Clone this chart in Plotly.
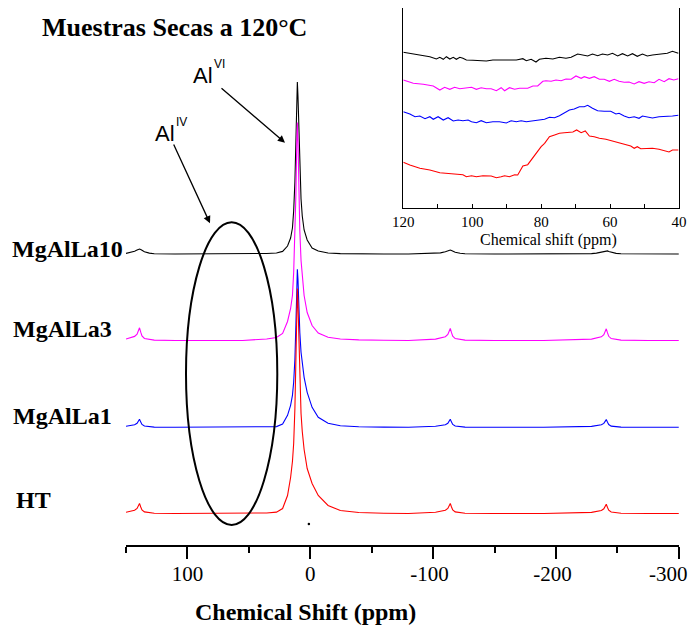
import plotly.graph_objects as go

# ---------------- canvas geometry ----------------
# The page adds an 8 px body margin, so the figure is drawn 8 px smaller and
# every reference-pixel position is shifted by that margin.
PAGE = 8
W, H = 699 - PAGE, 630 - PAGE
ML, MR, MT, MB = 118, 20, 0, 85
PW = W - ML - MR
PH = H - MT - MB


def px(x):
    return (x - PAGE - ML) / PW


def py(y):
    return (H - MB - (y - PAGE)) / PH


# ---------------- main spectra data ----------------
PPM = [150, 147, 143, 141, 140, 139, 138, 137, 135, 131, 127,
       110, 80, 55,
       35.5, 27.5, 22.5, 18.5, 16, 14.5, 13.5, 12.5, 11.7, 11, 10.5,
       10, 9.3, 8.5, 7.5, 6.5, 5, 2.5, -1.5, -6.5, -14.5, -24.5, -39.5,
       -60, -80,
       -102, -106, -110, -112, -113, -114, -115, -116, -118, -122, -126,
       -150, -190,
       -229, -233, -237, -239, -240, -241, -242, -243, -245, -249, -253,
       -275, -300]

SERIES = ["MgAlLa10", "MgAlLa3", "MgAlLa1", "HT"]

INT_MGALLA10 = [0.6, 1.4, 2.8, 3.9, 4.6, 5.0, 4.5, 3.6, 2.3, 0.9, 0.3,
                0, 0, 0,
                0.5, 1.0, 2.6, 8, 16, 26, 43, 72, 112, 155, 172,
                158, 120, 82, 55, 38, 24, 14, 6, 3, 1, 0.4, 0,
                0, 0,
                0.4, 1.1, 2.2, 3.1, 3.7, 4.0, 3.6, 2.9, 1.8, 0.7, 0.3,
                0, 0,
                0.4, 0.9, 1.9, 2.7, 3.2, 3.5, 3.1, 2.5, 1.6, 0.6, 0.2,
                0, 0]

INT_MGALLA3 = [1.5, 2.5, 4.1, 6.4, 9.1, 12.7, 8.3, 4.6, 2.0, 0.9, 0.4,
               0, 0, 0,
               1.5, 3, 7, 19, 32, 45, 68, 100, 145, 196, 218,
               200, 155, 110, 80, 62, 45, 28, 15, 7.5, 3.3, 1.5, 0.6,
               0.2, 0,
               1.4, 2.4, 3.8, 6.0, 8.6, 12.0, 7.8, 4.3, 1.9, 0.8, 0.4,
               0, 0,
               1.4, 2.3, 3.7, 5.9, 8.4, 11.7, 7.6, 4.2, 1.9, 0.8, 0.4,
               0, 0]

INT_MGALLA1 = [1.0, 1.6, 2.6, 4.0, 5.8, 8.0, 5.2, 2.9, 1.3, 0.6, 0.2,
               0, 0, 0,
               0.3, 0.7, 3.2, 12, 22, 32, 45, 68, 102, 142, 158,
               148, 120, 95, 75, 62, 50, 35, 20, 10, 4, 1.5, 0.5,
               0.2, 0,
               1.0, 1.6, 2.6, 4.0, 5.8, 8.0, 5.2, 2.9, 1.3, 0.6, 0.2,
               0, 0,
               0.9, 1.5, 2.5, 3.9, 5.5, 7.7, 5.0, 2.8, 1.2, 0.5, 0.2,
               0, 0]

INT_HT = [1.2, 2.0, 3.2, 5.0, 7.2, 10.0, 6.5, 3.6, 1.6, 0.7, 0.3,
          0, 0, 0,
          0.5, 1.4, 5, 18, 36, 52, 70, 105, 150, 200, 225,
          210, 170, 130, 100, 82, 64, 45, 30, 18, 8, 3, 1,
          0.3, 0,
          1.2, 2.0, 3.2, 5.0, 7.2, 10.0, 6.5, 3.6, 1.6, 0.7, 0.3,
          0, 0,
          1.1, 1.9, 3.0, 4.7, 6.7, 9.3, 6.0, 3.3, 1.5, 0.7, 0.3,
          0, 0]

INTENSITIES = [INT_MGALLA10, INT_MGALLA3, INT_MGALLA1, INT_HT]
# vertical stacking offsets of the four spectra
OFFSETS = [291, 204.5, 117.7, 31.5]
COLORS = ["#000000", "#ff00ff", "#0000ff", "#ff0000"]

DOT_PPM = [1.1]
DOT_Y = [21]

# ---------------- inset data (120 - 40 ppm) ----------------
INSET_K_PPM = [120.0, 116.2, 112.3, 110.4, 109.4, 108.4, 107.5, 106.5, 105.5, 104.6, 103.6, 102.7,
               101.7, 99.8, 95.9, 94.0, 90.1, 87.2, 85.3, 84.3, 82.9, 81.5, 80.5,
               78.6, 76.6, 74.7, 72.8, 71.3, 69.4, 68.0, 66.5, 65.1, 63.6, 62.2, 60.7,
               59.3, 57.8, 56.4, 54.9, 53.5, 52.1, 50.6, 49.2, 47.7, 45.8, 43.4, 41.9, 41.0, 40.2]
INSET_K_VAL = [155.7, 153.3, 151.3, 149.0, 150.7, 148.7, 151.3, 149.0, 150.7, 148.7, 150.7, 149.7,
               148.0, 147.7, 147.0, 148.0, 148.3, 148.0, 149.3, 147.3, 148.7, 146.0, 148.7,
               149.7, 149.0, 150.7, 149.7, 150.7, 154.0, 153.3, 152.0, 154.0, 152.3, 154.0, 153.0,
               154.7, 152.0, 154.3, 152.0, 154.3, 151.7, 154.0, 152.0, 153.0, 154.0, 154.7, 156.7, 155.3, 154.7]

INSET_M_PPM = [120.0, 117.1, 114.2, 111.3, 109.4, 108.0, 106.5, 105.1, 103.6, 101.7, 100.2, 98.8,
               97.4, 95.9, 94.5, 93.0, 91.6, 90.6, 89.2, 87.7, 86.3, 83.9, 82.4, 81.0, 79.5,
               78.6, 77.1, 75.7, 74.2, 72.8, 71.3, 69.9, 68.4, 67.5, 66.0, 64.6, 63.1, 61.7,
               60.2, 58.8, 57.4, 55.9, 54.5, 53.0, 51.6, 50.1, 48.7, 47.2, 45.8, 44.3, 42.9, 41.5, 40.2]
INSET_M_VAL = [128.0, 124.7, 123.7, 122.0, 118.0, 120.7, 118.7, 120.7, 119.3, 120.3, 120.7, 118.7,
               120.3, 119.3, 119.3, 117.3, 120.3, 117.3, 120.3, 118.7, 119.7, 119.7, 122.0, 122.0, 126.7,
               127.3, 126.7, 128.0, 127.3, 129.0, 128.7, 132.0, 129.7, 131.3, 129.7, 131.3, 128.7, 128.7,
               126.7, 128.7, 126.7, 125.7, 126.0, 124.0, 126.3, 124.7, 126.3, 125.3, 128.7, 126.3, 129.3, 128.0, 129.3]

INSET_B_PPM = [120.0, 118.1, 116.6, 115.2, 113.7, 112.3, 111.3, 109.9, 108.4, 107.0, 105.5, 104.1,
               102.7, 101.2, 100.2, 98.8, 97.4, 95.9, 94.0, 92.1, 90.1, 88.7, 87.2, 85.8, 84.3,
               82.4, 80.5, 79.0, 77.6, 76.1, 74.7, 73.3, 71.8, 70.4, 68.9, 67.5, 66.5, 65.1, 63.6,
               61.7, 59.8, 58.3, 57.4, 55.9, 54.5, 53.0, 51.6, 50.6, 49.2, 47.7, 45.8, 43.9, 41.9, 40.2]
INSET_B_VAL = [96.3, 94.0, 91.3, 92.0, 89.3, 91.3, 88.7, 91.3, 88.0, 90.3, 87.0, 88.0,
               87.3, 88.0, 86.3, 85.3, 87.3, 85.3, 86.3, 86.3, 85.0, 87.3, 86.3, 87.3, 86.3,
               87.3, 88.0, 88.7, 90.7, 90.3, 92.3, 94.7, 98.0, 99.0, 101.3, 101.3, 102.7, 99.7, 97.3,
               96.7, 96.7, 94.0, 94.7, 92.0, 90.3, 91.3, 89.7, 92.0, 90.7, 90.0, 91.3, 91.3, 92.0, 92.7]

INSET_R_PPM = [120.0, 118.1, 115.2, 112.3, 109.4, 105.5, 102.7, 101.7, 100.2, 98.8, 96.9, 94.5,
               93.0, 91.6, 90.6, 89.2, 87.7, 86.8, 85.3, 83.9, 82.9, 81.5, 80.0, 79.0,
               77.6, 76.1, 74.7, 73.3, 71.8, 70.8, 69.7, 68.4, 67.2, 66.0, 64.6, 63.1, 61.2,
               59.3, 57.4, 55.4, 54.0, 53.0, 52.1, 51.1, 49.6, 47.7, 45.8, 43.9, 42.9, 41.9, 40.2]
INSET_R_VAL = [45.7, 43.0, 39.7, 38.0, 35.3, 34.0, 33.3, 31.3, 32.3, 31.3, 32.3, 32.0,
               30.3, 31.3, 32.3, 31.3, 33.3, 33.0, 42.0, 43.3, 48.0, 55.3, 61.3, 64.7,
               71.3, 73.0, 74.7, 75.3, 75.3, 76.0, 78.0, 75.3, 77.0, 72.0, 71.3, 69.7, 68.7,
               67.0, 65.7, 64.0, 62.0, 59.7, 61.3, 59.3, 59.7, 59.7, 58.7, 57.0, 56.0, 58.0, 58.0]

INSET = [(INSET_K_PPM, INSET_K_VAL), (INSET_M_PPM, INSET_M_VAL),
         (INSET_B_PPM, INSET_B_VAL), (INSET_R_PPM, INSET_R_VAL)]

MAIN_TICKS = [100, 0, -100, -200, -300]
MAIN_TICKTEXT = ["100", "0", "-100", "-200", "-300"]
MAIN_MINOR = [150, 50, -50, -150, -250]
INSET_TICKS = [120, 100, 80, 60, 40]
INSET_MINOR = [110, 90, 70, 50]

SERIF = "Liberation Serif, Times New Roman, serif"
SANS = "Liberation Sans, Arial, sans-serif"

# digits are centred on the tick, the minus sign hangs to the left
# (a three-per-em space balances the hyphen on the right).  The last label
# sits at the very page edge, so it is drawn as a right-anchored annotation.
tick_labels = [t + "\u2004" if t.startswith("-") else t for t in MAIN_TICKTEXT]
edge_label = tick_labels[-1].strip("\u2004")
tick_labels[-1] = ""

fig = go.Figure()

for name, color, off, inten in zip(SERIES, COLORS, OFFSETS, INTENSITIES):
    fig.add_trace(go.Scatter(x=PPM, y=[off + v for v in inten], mode="lines", name=name,
                             line=dict(color=color, width=1.1), showlegend=False,
                             hoverinfo="skip"))

fig.add_trace(go.Scatter(x=DOT_PPM, y=DOT_Y, mode="markers", marker=dict(color="black", size=2.5),
                         showlegend=False, hoverinfo="skip"))

for (xs, ys), color in zip(INSET, COLORS):
    fig.add_trace(go.Scatter(x=xs, y=ys, mode="lines", xaxis="x2", yaxis="y2",
                             line=dict(color=color, width=1.1), showlegend=False,
                             hoverinfo="skip"))

fig.update_layout(
    width=W, height=H,
    margin=dict(l=ML, r=MR, t=MT, b=MB),
    paper_bgcolor="white", plot_bgcolor="white",
    xaxis=dict(domain=[0, 1], range=[150, -300.2], anchor="y",
               showline=True, linecolor="black", linewidth=1.5,
               ticks="outside", ticklen=12, tickwidth=1.5, tickcolor="black",
               tickvals=MAIN_TICKS, ticktext=tick_labels,
               tickfont=dict(family=SERIF, size=21, color="black"),
               minor=dict(tickvals=MAIN_MINOR, ticks="outside", ticklen=6,
                          tickwidth=1.5, tickcolor="black"),
               showgrid=False, zeroline=False, ticklabelstandoff=-3,
               ticklabeloverflow="allow"),
    yaxis=dict(domain=[0, 1], range=[0, PH], visible=False, showgrid=False, zeroline=False),
    xaxis2=dict(domain=[px(403.3), 1], range=[120, 40], anchor="y2",
                showline=True, mirror=True, linecolor="black", linewidth=1,
                ticks="inside", ticklen=4, tickwidth=1, tickcolor="black",
                tickvals=INSET_TICKS,
                tickfont=dict(family=SERIF, size=15, color="black"),
                minor=dict(tickvals=INSET_MINOR, ticks="inside", ticklen=4,
                           tickwidth=1, tickcolor="black"),
                showgrid=False, zeroline=False, ticklabeloverflow="allow"),
    yaxis2=dict(domain=[py(208), 1], range=[0, 200], anchor="x2",
                showline=True, mirror=True, linecolor="black", linewidth=1,
                showticklabels=False, ticks="", showgrid=False, zeroline=False),
)

annotations = []


def label(text, x, y, size, family=SERIF, xanchor="center"):
    annotations.append(dict(text=text, x=px(x), y=py(y), xref="paper", yref="paper",
                            xanchor=xanchor, yanchor="middle", showarrow=False,
                            font=dict(family=family, size=size, color="black")))


label("<b>Muestras Secas a 120°C</b>", 174, 28, 26)
label("<b>MgAlLa10</b>", 10, 249, 24, xanchor="left")
label("<b>MgAlLa3</b>", 11, 329, 24, xanchor="left")
label("<b>MgAlLa1</b>", 11, 416, 24, xanchor="left")
label("<b>HT</b>", 14, 500, 24, xanchor="left")
label("<b>Chemical Shift (ppm)</b>", 305, 612, 24)
label("Chemical shift (ppm)", 548, 240, 16)
label("Al", 203, 75, 22, family=SANS)
label("VI", 219, 64, 12, family=SANS)
label("Al", 164.5, 133, 22, family=SANS)
label("IV", 181, 122, 12, family=SANS)
label(edge_label, 690, 574, 21, xanchor="right")


def arrow(tail, head):
    annotations.append(dict(text="", x=px(head[0]), y=py(head[1]), xref="paper", yref="paper",
                            ax=tail[0] - head[0], ay=tail[1] - head[1],
                            showarrow=True, arrowhead=2, arrowsize=1.1, arrowwidth=1.3,
                            arrowcolor="black", standoff=0))


arrow((220, 87), (285, 142.7))
arrow((173, 143), (210, 223.3))

fig.update_layout(annotations=annotations)

fig.add_shape(type="circle", xref="paper", yref="paper",
              x0=px(186), x1=px(277.3), y0=py(525), y1=py(222.3),
              line=dict(color="black", width=2))

fig.write_html("out.html")
